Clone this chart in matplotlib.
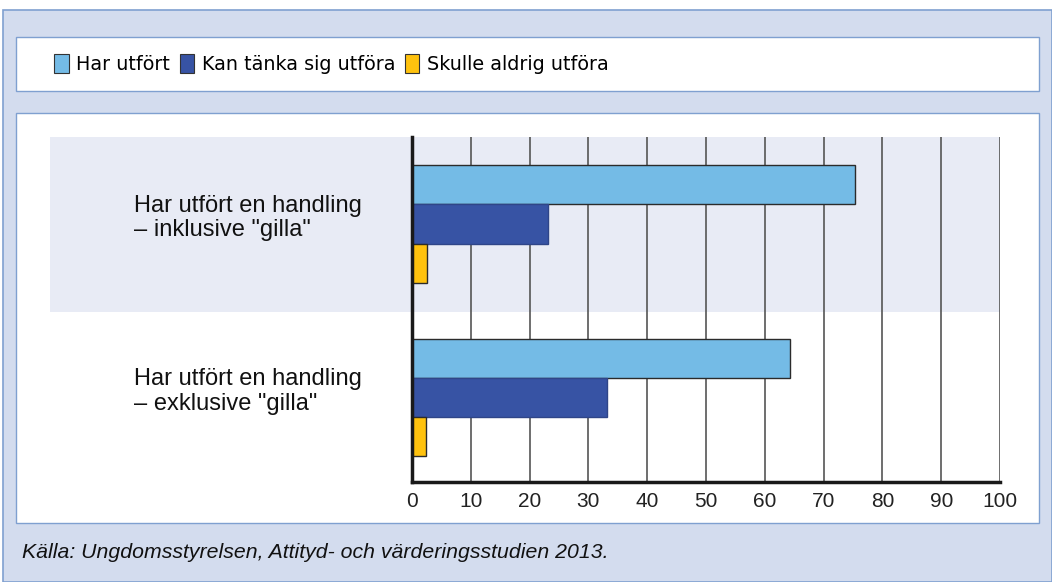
"""Horizontal grouped bar chart: Har utfört / Kan tänka sig / Skulle aldrig."""
import matplotlib
matplotlib.use("Agg")
import matplotlib.pyplot as plt
from matplotlib.patches import Patch, Rectangle
import numpy as np

categories = [
    'Har utfört en handling\n– inklusive "gilla"',
    'Har utfört en handling\n– exklusive "gilla"',
]
series_names = ["Har utfört", "Kan tänka sig utföra", "Skulle aldrig utföra"]
har_utfort = [75.3, 64.3]
kan_tanka = [23.1, 33.2]
skulle_aldrig = [2.5, 2.4]
xticks = list(range(0, 101, 10))
source = "Källa: Ungdomsstyrelsen, Attityd- och värderingsstudien 2013."

colors = ["#74BBE6", "#3753A4", "#FFC20E"]
edges = ["#2b2b2b", "#2f4588", "#2b2b2b"]

W, H = 1052, 582


def fx(px):
    return px / W


def fy(py):
    return 1 - py / H


fig = plt.figure(figsize=(W / 100, H / 100), dpi=100)
fig.patch.set_facecolor("white")

# outer light-blue panel
fig.patches.append(Rectangle((fx(3), 0), fx(W - 3), fy(10), transform=fig.transFigure,
                             facecolor="#D3DCEE", edgecolor="#7FA0D0", lw=1.2, zorder=0))
# legend box
fig.patches.append(Rectangle((fx(16), fy(91)), fx(1039 - 16), (91 - 37) / H,
                             transform=fig.transFigure, facecolor="white",
                             edgecolor="#7FA0D0", lw=1, zorder=1))
# plot box
fig.patches.append(Rectangle((fx(16), fy(523)), fx(1039 - 16), (523 - 113) / H,
                             transform=fig.transFigure, facecolor="white",
                             edgecolor="#7FA0D0", lw=1, zorder=1))
# shaded band behind first group
fig.patches.append(Rectangle((fx(50), fy(312)), fx(1000 - 50), (312 - 137) / H,
                             transform=fig.transFigure, facecolor="#E8EBF5",
                             edgecolor="none", zorder=2))

ax = fig.add_axes([fx(412), fy(482), fx(1000 - 412), (482 - 137) / H])
ax.set_facecolor("none")
ax.set_zorder(3)

y = np.arange(len(categories))
h = 0.226
for i, (vals, c, e) in enumerate(zip([har_utfort, kan_tanka, skulle_aldrig], colors, edges)):
    ax.barh(y + (i - 1) * h, vals, height=h, color=c, edgecolor=e, lw=1, zorder=3)

ax.set_xlim(0, 100)
ax.set_ylim(1.487, -0.501)
ax.set_xticks(xticks)
ax.set_xticklabels([str(t) for t in xticks], fontsize=15, family="Liberation Sans",
                   color="#222222")
ax.tick_params(axis="x", length=0, pad=7)
ax.set_yticks([])
ax.grid(axis="x", color="#555555", lw=1.2, zorder=1)
for s in ["top", "right"]:
    ax.spines[s].set_visible(False)
for s in ["left", "bottom"]:
    ax.spines[s].set_linewidth(2.5)
    ax.spines[s].set_color("#1a1a1a")
    ax.spines[s].set_zorder(4)

# category labels, placed in figure coords level with each group
for yi, label in zip(y, categories):
    ypix = ax.transData.transform((0, yi))[1] + 6
    yfig = fig.transFigure.inverted().transform((0, ypix))[1]
    fig.text(fx(134), yfig, label, fontsize=17, family="Liberation Sans",
             color="#111111", va="center", ha="left", linespacing=1.15, zorder=5)

handles = [Patch(facecolor=c, edgecolor="#333333", lw=0.8) for c in colors]
fig.legend(handles, series_names, loc="center left", bbox_to_anchor=(fx(37), fy(64)),
           ncol=3, frameon=False, handlelength=0.75, handleheight=1.1,
           handletextpad=0.4, columnspacing=0.5, prop={"family": "DejaVu Sans", "size": 13.8})

fig.text(fx(22), fy(553), source, fontsize=15.3, style="italic", family="Liberation Sans",
         color="#111111", va="center", ha="left")

fig.savefig("out.png", dpi=100)
